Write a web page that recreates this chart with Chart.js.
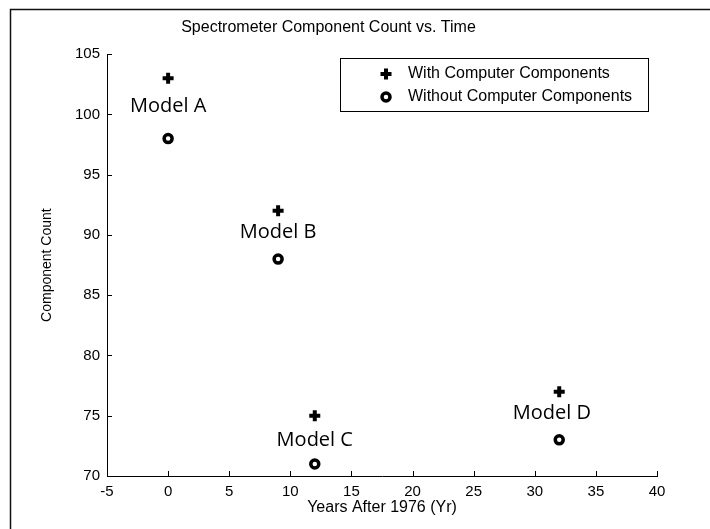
<!DOCTYPE html>
<html>
<head>
<meta charset="utf-8">
<script src="https://cdn.jsdelivr.net/npm/chart.js@4.4.1/dist/chart.umd.min.js"></script>
<style>
  html, body { margin: 0; padding: 0; background: #fff; }
  #wrap { width: 710px; height: 529px; }
</style>
</head>
<body>
<div id="wrap"><canvas id="chart"></canvas></div>
<script>
// data
const models = ['Model A', 'Model B', 'Model C', 'Model D'];
const years = [0, 9, 12, 32];
const withComputer = [103, 92, 75, 77];
const withoutComputer = [98, 88, 71, 73];
// where each model name sits (data units)
const labelYears = [0, 9, 12, 31.4];
const labelCounts = [100.7, 90.2, 73.0, 75.2];
const seriesNames = ['With Computer Components', 'Without Computer Components'];
const xRange = [-5, 40];
const yRange = [70, 105];
const tickStep = 5;

const FONT = "'Liberation Sans', Arial, Helvetica, sans-serif";

function toPoints(xs, ys) {
  return xs.map((x, i) => ({ x: x, y: ys[i] }));
}

// frame, inward ticks, model names and the boxed legend
const extras = {
  id: 'extras',
  afterDraw(chart) {
    const ctx = chart.ctx;
    const area = chart.chartArea;
    const xs = chart.scales.x, ys = chart.scales.y;
    ctx.save();

    // figure frame (left + top edges of the scan)
    ctx.strokeStyle = '#111';
    ctx.lineWidth = 1.5;
    ctx.beginPath();
    ctx.moveTo(10.5, 529);
    ctx.lineTo(10.5, 9.5);
    ctx.lineTo(710, 9.5);
    ctx.stroke();

    // ticks pointing into the plot
    ctx.lineWidth = 1;
    ctx.strokeStyle = '#000';
    ctx.beginPath();
    xs.ticks.forEach(t => {
      const px = Math.round(xs.getPixelForValue(t.value)) + 0.5;
      ctx.moveTo(px, area.bottom);
      ctx.lineTo(px, area.bottom - 5);
    });
    ys.ticks.forEach(t => {
      const py = Math.round(ys.getPixelForValue(t.value)) + 0.5;
      ctx.moveTo(area.left, py);
      ctx.lineTo(area.left + 5, py);
    });
    ctx.stroke();

    // model names
    ctx.fillStyle = '#000';
    ctx.font = "20px 'Open Sans', 'Noto Sans', sans-serif";
    ctx.textAlign = 'center';
    ctx.textBaseline = 'middle';
    models.forEach((m, i) => {
      ctx.fillText(m, xs.getPixelForValue(labelYears[i]), ys.getPixelForValue(labelCounts[i]));
    });

    // legend box
    const box = { left: 340, top: 58, right: 648, bottom: 111 };
    ctx.lineWidth = 1;
    ctx.strokeStyle = '#000';
    ctx.strokeRect(box.left + 0.5, box.top + 0.5, box.right - box.left, box.bottom - box.top);
    ctx.font = '16px ' + FONT;
    ctx.textAlign = 'left';
    chart.data.datasets.forEach((ds, i) => {
      const y = box.top + 16 + i * 23;
      ctx.strokeStyle = ds.borderColor;
      ctx.fillStyle = ds.backgroundColor;
      ctx.lineWidth = ds.borderWidth;
      Chart.helpers.drawPoint(ctx, {
        pointStyle: ds.pointStyle, radius: ds.pointRadius,
        borderWidth: ds.borderWidth, rotation: 0
      }, 386, y);
      ctx.fillStyle = '#000';
      ctx.fillText(ds.label, 408, y);
    });
    ctx.restore();
  }
};

new Chart(document.getElementById('chart'), {
  type: 'scatter',
  data: {
    datasets: [
      {
        label: seriesNames[0],
        data: toPoints(years, withComputer),
        pointStyle: 'cross',
        pointRadius: 5.5,
        borderWidth: 4,
        borderColor: '#000',
        backgroundColor: '#000'
      },
      {
        label: seriesNames[1],
        data: toPoints(years, withoutComputer),
        pointStyle: 'circle',
        pointRadius: 4,
        borderWidth: 3.5,
        borderColor: '#000',
        backgroundColor: '#fff'
      }
    ]
  },
  options: {
    responsive: true,
    maintainAspectRatio: false,
    animation: false,
    layout: { padding: { left: 0, right: 53, top: 0, bottom: 0 } },
    plugins: {
      legend: { display: false },
      tooltip: { enabled: false },
      title: {
        display: true,
        text: 'Spectrometer Component Count vs. Time',
        color: '#000',
        font: { family: FONT, size: 16, weight: 'normal' },
        padding: { top: 18, bottom: 17 }
      }
    },
    scales: {
      x: {
        type: 'linear',
        min: xRange[0],
        max: xRange[1],
        grid: { display: false, drawTicks: false },
        border: { display: true, color: '#000', width: 1 },
        ticks: { stepSize: tickStep, color: '#000', padding: 7, font: { family: FONT, size: 15 } },
        title: {
          display: true,
          text: 'Years After 1976 (Yr)',
          color: '#000',
          font: { family: FONT, size: 16 },
          padding: { top: 0, bottom: 12 }
        },
        afterFit: s => { s.height = 53; }
      },
      y: {
        min: yRange[0],
        max: yRange[1],
        grid: { display: false, drawTicks: false },
        border: { display: true, color: '#000', width: 1 },
        ticks: { stepSize: tickStep, color: '#000', padding: 7, font: { family: FONT, size: 15 } },
        title: {
          display: true,
          text: 'Component Count',
          color: '#000',
          font: { family: FONT, size: 14 },
          padding: { top: 39, bottom: 0 }
        },
        afterFit: s => { s.width = 107; }
      }
    }
  },
  plugins: [extras]
});
</script>
</body>
</html>
